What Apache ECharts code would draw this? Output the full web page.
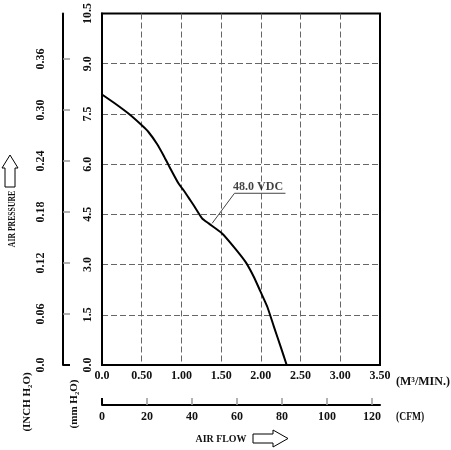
<!DOCTYPE html>
<html><head><meta charset="utf-8">
<script src="https://cdn.jsdelivr.net/npm/echarts@6/dist/echarts.min.js"></script>
<style>html,body{margin:0;padding:0;background:#fff}#c{width:451px;height:450px}</style>
</head><body><div id="c"></div>
<script>
// ---- data (air flow in M^3/min, static pressure in mm H2O) ----
const flowM3 = [0, 0.164, 0.333, 0.501, 0.585, 0.691, 0.775, 0.838, 0.964, 1.027, 1.112, 1.154, 1.260, 1.343, 1.512, 1.659, 1.807, 1.912, 1.996, 2.081, 2.165, 2.249, 2.325];
const pressureMm = [8.08, 7.81, 7.51, 7.16, 6.96, 6.61, 6.26, 5.97, 5.42, 5.22, 4.92, 4.77, 4.38, 4.23, 3.93, 3.53, 3.08, 2.63, 2.19, 1.74, 1.14, 0.55, 0];
const seriesName = '48.0 VDC';
// annotation leader line (flow, pressure) and label anchor
const leaderFlow = [1.386, 1.668, 2.31];
const leaderPressure = [4.23, 5.13, 5.13];
const labelAnchor = [1.965, 5.13];
// axes
const flowMax = 3.5, flowStep = 0.5;
const mmMax = 10.5, mmStep = 1.5;
const M3_TO_CFM = 35.3147, MM_PER_INCH = 25.4;
const cfmTicks = [0, 20, 40, 60, 80, 100, 120];
const inchTicks = [0, 0.06, 0.12, 0.18, 0.24, 0.30, 0.36];

const FONT = 'Liberation Serif';
const lbl = (extra) => Object.assign({color: '#111', fontFamily: FONT, fontSize: 12, fontWeight: 'bold'}, extra);
const dashed = {show: true, showMinLine: false, showMaxLine: false, lineStyle: {type: [6, 3], color: '#666', width: 1}};
const blackLine = {show: true, onZero: false, lineStyle: {color: '#000', width: 2}};

function txt(text, x, y, opts) {
  opts = opts || {};
  return {
    type: 'text', x: x, y: y, rotation: opts.rot || 0, scaleX: opts.sx || 1,
    style: {text: text, fontFamily: FONT, fontSize: opts.fs || 11, fontWeight: opts.fw || 'bold',
      fill: '#111', align: opts.align || 'center', verticalAlign: 'middle'}
  };
}

const chart = echarts.init(document.getElementById('c'), null, {renderer: 'canvas'});
chart.setOption({
  animation: false,
  backgroundColor: '#fff',
  grid: {left: 102, top: 13, width: 278, height: 352, show: true, borderColor: '#000', borderWidth: 2, containLabel: false},
  xAxis: [
    {type: 'value', min: 0, max: flowMax, interval: flowStep, position: 'bottom',
      axisLine: blackLine, axisTick: {show: false},
      axisLabel: lbl({margin: 5, formatter: v => v === 0 ? '0.0' : v.toFixed(2)}),
      splitLine: dashed},
    {type: 'value', min: 0, max: flowMax * M3_TO_CFM, position: 'bottom', offset: 40,
      axisLine: blackLine,
      axisTick: {show: true, inside: true, length: 7, customValues: cfmTicks, lineStyle: {color: '#999', width: 1.5}},
      axisLabel: lbl({margin: 6, customValues: cfmTicks, formatter: v => String(v)}),
      splitLine: {show: false}},
    {type: 'value', min: 0, max: flowMax * M3_TO_CFM, position: 'bottom', offset: 40,
      axisLine: {show: false, onZero: false},
      axisTick: {show: true, inside: true, length: 7, customValues: [0], lineStyle: {color: '#000', width: 2}},
      axisLabel: {show: false}, splitLine: {show: false}}
  ],
  yAxis: [
    {type: 'value', min: 0, max: mmMax, interval: mmStep, position: 'left',
      axisLine: blackLine, axisTick: {show: false},
      axisLabel: lbl({rotate: 90, margin: 8, formatter: v => v.toFixed(1)}),
      splitLine: dashed},
    {type: 'value', min: 0, max: mmMax / MM_PER_INCH, position: 'left', offset: 39,
      axisLine: blackLine,
      axisTick: {show: true, inside: true, length: 7, customValues: inchTicks, lineStyle: {color: '#999', width: 1.5}},
      axisLabel: lbl({rotate: 90, margin: 16, customValues: inchTicks, formatter: v => v === 0 ? '0.0' : v.toFixed(2)}),
      splitLine: {show: false}},
    {type: 'value', min: 0, max: mmMax / MM_PER_INCH, position: 'left', offset: 39,
      axisLine: {show: false, onZero: false},
      axisTick: {show: true, inside: true, length: 7, customValues: [0], lineStyle: {color: '#000', width: 2}},
      axisLabel: {show: false}, splitLine: {show: false}}
  ],
  series: [
    {name: seriesName, type: 'line', xAxisIndex: 0, yAxisIndex: 0, smooth: 0.2,
      showSymbol: false, symbol: 'none',
      data: flowM3.map((f, i) => [f, pressureMm[i]]),
      lineStyle: {color: '#000', width: 2}, z: 5},
    {type: 'line', xAxisIndex: 0, yAxisIndex: 0, symbol: 'none', showSymbol: false,
      data: leaderFlow.map((f, i) => [f, leaderPressure[i]]),
      lineStyle: {color: '#444', width: 1}, z: 4},
    {type: 'scatter', xAxisIndex: 0, yAxisIndex: 0, symbolSize: 1,
      itemStyle: {color: 'rgba(0,0,0,0)'},
      data: [labelAnchor],
      label: {show: true, position: 'top', distance: 0, formatter: seriesName,
        color: '#111', fontFamily: FONT, fontSize: 12, fontWeight: 'bold'}}
  ],
  graphic: [
    txt('AIR PRESSURE', 12, 219, {rot: Math.PI / 2, sx: 0.7, fs: 11}),
    txt('(INCH H\u2082O)', 27, 402, {rot: Math.PI / 2, fs: 11}),
    txt('(mm H\u2082O)', 74, 404, {rot: Math.PI / 2, fs: 11}),
    txt('(M\u00b3/MIN.)', 396, 382, {align: 'left', fs: 12}),
    txt('(CFM)', 396, 417, {align: 'left', fs: 12, sx: 0.8}),
    txt('AIR FLOW', 221, 439, {fs: 11, sx: 0.9}),
    {type: 'polygon', shape: {points: [[10, 155], [18, 168], [15, 168], [15, 187], [5, 187], [5, 168], [2, 168]]},
      style: {fill: 'none', stroke: '#000', lineWidth: 1}},
    {type: 'polygon', shape: {points: [[253, 434], [273, 434], [273, 430], [288, 438.5], [273, 447], [273, 443], [253, 443]]},
      style: {fill: 'none', stroke: '#000', lineWidth: 1}}
  ]
});
</script></body></html>
